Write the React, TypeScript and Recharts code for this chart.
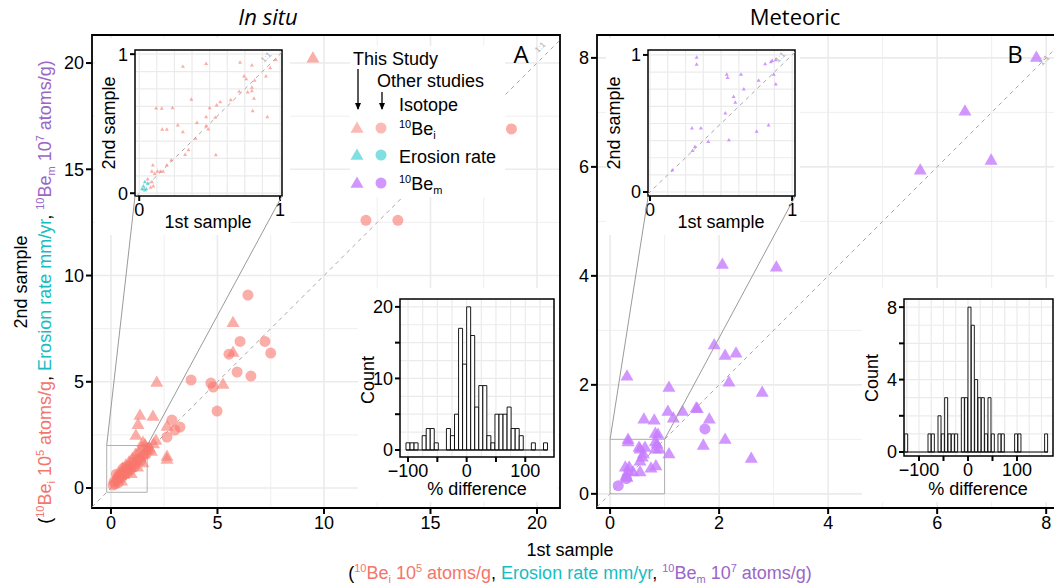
import React from 'react';
import {
  ScatterChart, Scatter, BarChart, Bar, XAxis, YAxis, CartesianGrid, ReferenceLine, ReferenceArea,
} from 'recharts';

const FONT = "'Liberation Sans', Arial, Helvetica, sans-serif";
const TITLE_FONT = "'Open Sans', 'Noto Sans', sans-serif";
const PINK = '#F8766D';
const CYAN = '#00BFC4';
const PURPLE = '#C77CFF';
const PINK_TXT = '#F4756C';
const CYAN_TXT = '#17BDC2';
const PURPLE_TXT = '#9A66C8';
const GRID = '#EBEBEB';

// ---- panel A: in situ 10Be (1e5 atoms/g) ----
const inSituThisStudy = [
  [9.48, 20.2], [5.73, 7.76], [5.73, 6.35], [2.15, 4.94], [5.26, 4.85], [1.36, 3.39], [1.97, 3.34],
  [2.63, 2.87], [1.27, 2.96], [1.17, 2.45], [2.11, 2.21], [1.5, 2.12], [2.63, 1.46], [2.63, 1.32],
  [0.25, 0.45], [0.35, 0.7], [0.45, 0.55], [0.55, 0.9], [0.6, 0.6], [0.7, 1.05], [0.75, 0.8],
  [0.85, 1.2], [0.9, 0.95], [1.0, 1.35], [1.05, 1.1], [1.15, 1.55], [1.2, 1.25], [1.3, 1.7],
  [1.35, 1.4], [1.45, 1.9], [1.55, 1.6], [1.6, 2.0], [1.7, 1.75], [1.8, 1.85], [0.95, 0.65],
  [1.25, 0.95], [0.5, 0.3], [1.5, 1.15], [1.9, 1.7], [2.0, 2.05],
];
const inSituOther = [
  [18.8, 16.9], [11.97, 12.6], [13.47, 12.6], [6.43, 9.08], [6.06, 6.9], [7.23, 6.9], [7.5, 6.35],
  [5.54, 6.3], [5.92, 5.46], [6.57, 5.27], [3.76, 5.08], [4.69, 4.94], [4.8, 4.75], [4.98, 3.62],
  [2.86, 3.2], [3.24, 2.87], [3.0, 2.73], [2.63, 2.4],
  [0.1, 0.14], [0.15, 0.3], [0.2, 0.2], [0.3, 0.4], [0.35, 0.25], [0.4, 0.55], [0.5, 0.5],
  [0.55, 0.7], [0.65, 0.65], [0.7, 0.85], [0.8, 0.75], [0.85, 1.0], [0.95, 0.9], [1.05, 1.2],
  [1.1, 1.0], [1.25, 1.35], [1.4, 1.3], [1.5, 1.55], [1.65, 1.6], [1.75, 1.9], [0.25, 0.65], [0.6, 0.95],
];
const insetAIsotope = [
  [0.31, 0.91], [0.475, 0.93], [0.716, 0.94], [0.8, 0.92], [0.97, 0.96], [0.93, 0.9], [0.9, 0.84],
  [0.745, 0.84], [0.76, 0.82], [0.82, 0.81], [0.8, 0.76], [0.8, 0.735], [0.71, 0.73], [0.77, 0.726],
  [0.815, 0.68], [0.65, 0.67], [0.575, 0.656], [0.55, 0.632], [0.37, 0.673], [0.12, 0.61],
  [0.16, 0.608], [0.236, 0.613], [0.5, 0.613], [0.806, 0.59], [0.475, 0.548], [0.54, 0.543],
  [0.91, 0.548], [0.41, 0.507], [0.274, 0.488], [0.163, 0.457], [0.196, 0.457], [0.475, 0.483],
  [0.49, 0.46], [0.31, 0.44], [0.4, 0.392], [0.35, 0.31], [0.326, 0.276], [0.544, 0.274],
  [0.227, 0.236], [0.196, 0.2], [0.097, 0.2], [0.09, 0.155], [0.11, 0.14], [0.13, 0.155],
  [0.15, 0.155], [0.17, 0.155], [0.08, 0.04], [0.1, 0.05], [0.06, 0.1], [0.09, 0.08],
];
const insetAErosion = [[0.03, 0.05], [0.04, 0.08], [0.05, 0.03], [0.06, 0.07], [0.04, 0.02], [0.02, 0.03]];

// ---- panel B: meteoric 10Be (1e7 atoms/g) ----
const meteoricThisStudy = [
  [7.82, 8.0], [6.51, 7.01], [6.99, 6.11], [5.69, 5.93], [2.06, 4.2], [3.05, 4.15], [1.91, 2.72],
  [2.11, 2.53], [2.31, 2.57], [0.31, 2.15], [2.18, 2.04], [1.08, 1.94], [2.79, 1.85], [1.06, 1.5],
  [1.33, 1.5], [1.16, 1.38], [1.58, 1.56], [1.6, 1.55], [1.82, 1.36], [0.62, 1.36], [0.81, 1.34],
  [0.83, 1.1], [0.88, 1.08], [0.33, 0.99], [0.33, 0.94], [1.71, 0.88], [2.11, 0.99], [2.59, 0.64],
  [1.08, 0.72], [0.53, 0.84], [0.64, 0.84], [0.55, 0.81], [0.83, 0.94], [0.86, 0.9], [0.9, 0.81],
  [0.83, 0.81], [0.61, 0.72], [0.59, 0.66], [0.55, 0.59], [0.84, 0.5], [0.75, 0.46], [0.28, 0.48],
  [0.35, 0.48], [0.33, 0.4], [0.55, 0.39], [0.42, 0.39], [0.29, 0.31], [0.31, 0.29],
];
const meteoricOther = [[1.74, 1.19], [0.15, 0.15], [0.3, 0.28]];
const insetBIsotope = [
  [0.328, 0.98], [0.328, 0.93], [0.54, 0.856], [0.546, 0.833], [0.64, 0.856], [0.81, 0.933],
  [0.85, 0.947], [0.86, 0.957], [0.885, 0.962], [0.764, 0.813], [0.87, 0.856], [0.885, 0.785],
  [0.66, 0.749], [0.588, 0.694], [0.6, 0.653], [0.53, 0.574], [0.295, 0.464], [0.358, 0.464],
  [0.834, 0.486], [0.75, 0.44], [0.555, 0.378], [0.41, 0.366], [0.316, 0.33], [0.3, 0.3], [0.157, 0.158],
];

// ---- histograms of % difference ----
const histAStart = -103.5;
const histABin = 6.9;
const histACounts = [1, 1, 1, 0, 2, 3, 3, 1, 0, 0, 3, 2, 5, 17, 12, 20, 16, 6, 9, 9, 2, 1, 5, 5, 5, 6, 3, 3, 2, 0, 0, 1, 0, 0, 1];
const histBStart = -129.2;
const histBBin = 6.8;
const histBCounts = [1, 0, 0, 0, 0, 0, 0, 1, 1, 0, 2, 1, 3, 1, 1, 1, 0, 3, 3, 8, 7, 4, 3, 3, 1, 3, 1, 0, 1, 1, 0, 0, 0, 1, 1, 0, 0, 0, 0, 0, 0, 0, 1];

// ---- ticks / grid ----
const ticksA = [0, 5, 10, 15, 20];
const minorA = [2.5, 7.5, 12.5, 17.5];
const ticksB = [0, 2, 4, 6, 8];
const minorB = [1, 3, 5, 7];
const insetTicks = [0, 1];
const insetMajor = [0, 0.25, 0.5, 0.75, 1];
const insetMinor = [0.125, 0.375, 0.625, 0.875];
const histXTicks = [-100, -50, 0, 50, 100];
const histAGridX = [-100, -75, -50, -25, 0, 25, 50, 75, 100, 125];
const histAGridY = [0, 2.5, 5, 7.5, 10, 12.5, 15, 17.5, 20];
const histAYTicks = [0, 5, 10, 15, 20];
const histBGridX = [-125, -100, -75, -50, -25, 0, 25, 50, 75, 100, 125, 150];
const histBGridY = [0, 1, 2, 3, 4, 5, 6, 7, 8];
const histBYTicks = [0, 2, 4, 6, 8];

const pts = (a: number[][]) => a.map(([x, y]) => ({ x, y }));

const Tri = ({ cx, cy, fill, s, op }: any) => {
  const h = s * 0.866;
  return (
    <path
      d={`M${cx},${cy - (2 * h) / 3}L${cx + s / 2},${cy + h / 3}L${cx - s / 2},${cy + h / 3}Z`}
      fill={fill}
      fillOpacity={op}
    />
  );
};
const Dot = ({ cx, cy, fill, r, op }: any) => <circle cx={cx} cy={cy} r={r} fill={fill} fillOpacity={op} />;

const minus = (v: number) => (v < 0 ? `\u2212${Math.abs(v)}` : `${v}`);

type Series = { data: number[][]; shape: (p: any) => React.ReactElement };

function ScatterPanel(p: any) {
  const d0 = Math.max(p.xDomain[0], p.yDomain[0]);
  const d1 = Math.min(p.xDomain[1], p.yDomain[1]);
  const tickStyle = { fill: '#000', fontSize: p.fs, fontFamily: FONT };
  return (
    <div style={{ position: 'absolute', left: p.left, top: p.top, width: p.width, height: p.height, background: p.bg }}>
      <ScatterChart width={p.width} height={p.height} margin={p.margin}>
        <CartesianGrid verticalValues={p.minor} horizontalValues={p.minor} stroke={GRID} strokeWidth={p.minorW} />
        <CartesianGrid verticalValues={p.major} horizontalValues={p.major} stroke={GRID} strokeWidth={p.majorW} />
        <XAxis type="number" dataKey="x" domain={p.xDomain} ticks={p.ticks} interval={0} allowDataOverflow
          height={p.xh} axisLine={false} tickSize={p.tickSize} tickLine={{ stroke: '#000', strokeWidth: 2 }} tick={tickStyle} />
        <YAxis type="number" dataKey="y" domain={p.yDomain} ticks={p.ticks} interval={0} allowDataOverflow
          width={p.yw} axisLine={false} tickSize={p.tickSize} tickLine={{ stroke: '#000', strokeWidth: 2 }} tick={tickStyle} />
        <ReferenceLine segment={[{ x: d0, y: d0 }, { x: d1, y: d1 }]} stroke="#A8A8A8" strokeDasharray="4 4" strokeWidth={1} ifOverflow="hidden" />
        {p.rect && (
          <ReferenceArea x1={p.rect[0]} x2={p.rect[1]} y1={p.rect[2]} y2={p.rect[3]} fill="none" stroke="#B0B0B0" strokeWidth={1} ifOverflow="visible" />
        )}
        {p.series.map((s: Series, i: number) => (
          <Scatter key={i} data={pts(s.data)} shape={s.shape} isAnimationActive={false} />
        ))}
        <ReferenceArea x1={p.xDomain[0]} x2={p.xDomain[1]} y1={p.yDomain[0]} y2={p.yDomain[1]} fill="none"
          stroke="#000" strokeWidth={p.border} ifOverflow="visible" />
      </ScatterChart>
    </div>
  );
}

function Connectors(p: any) {
  return (
    <div style={{ position: 'absolute', left: p.left, top: p.top, pointerEvents: 'none' }}>
      <ScatterChart width={p.width} height={p.height} margin={{
        top: p.margin.top, right: p.margin.right, bottom: p.margin.bottom + p.xh, left: p.margin.left + p.yw,
      }}>
        <XAxis type="number" dataKey="x" domain={p.xDomain} allowDataOverflow hide />
        <YAxis type="number" dataKey="y" domain={p.yDomain} allowDataOverflow hide />
        {p.lines.map((l: number[][], i: number) => (
          <ReferenceLine key={i} segment={[{ x: l[0][0], y: l[0][1] }, { x: l[1][0], y: l[1][1] }]}
            stroke="#9A9A9A" strokeWidth={1} ifOverflow="visible" />
        ))}
      </ScatterChart>
    </div>
  );
}

function HistPanel(p: any) {
  const data = p.counts.map((c: number, i: number) => ({ bin: i, mid: p.start + p.binW * (i + 0.5), count: c }));
  const end = p.start + p.binW * p.counts.length;
  const plotW = p.width - p.margin.left - p.margin.right - p.yw;
  const ppu = plotW / (p.xDomain[1] - p.xDomain[0]);
  const padL = (p.start - p.xDomain[0]) * ppu;
  const padR = (p.xDomain[1] - end) * ppu;
  const tickStyle = { fill: '#000', fontSize: 18, fontFamily: FONT };
  return (
    <div style={{ position: 'absolute', left: p.left, top: p.top, width: p.width, height: p.height, background: '#fff' }}>
      <BarChart width={p.width} height={p.height} margin={p.margin} data={data} barCategoryGap={0} barGap={0}>
        <CartesianGrid xAxisId="num" verticalValues={p.gridX} horizontalValues={p.gridY} stroke={GRID} strokeWidth={1.2} />
        <XAxis xAxisId="num" type="number" dataKey="mid" domain={p.xDomain} allowDataOverflow ticks={histXTicks}
          interval={0} height={22} axisLine={false} tickSize={5} tickLine={{ stroke: '#000', strokeWidth: 2 }}
          tick={tickStyle} tickFormatter={(v: number) => (v % 100 === 0 ? minus(v) : '')} />
        <XAxis xAxisId="cat" dataKey="bin" hide height={0} padding={{ left: padL, right: padR }} />
        <YAxis type="number" domain={p.yDomain} allowDataOverflow ticks={p.yTicks} interval={0} width={p.yw}
          axisLine={false} tickSize={5} tickLine={{ stroke: '#000', strokeWidth: 2 }} tick={tickStyle}
          tickFormatter={(v: number) => (v % p.labelEvery === 0 ? `${v}` : '')} />
        <Bar xAxisId="cat" dataKey="count" fill="#fff" stroke="#000" strokeWidth={0.9} isAnimationActive={false} />
        <ReferenceLine xAxisId="num" segment={[{ x: p.start, y: 0 }, { x: end, y: 0 }]} stroke="#000" strokeWidth={1} />
        <ReferenceArea xAxisId="num" x1={p.xDomain[0]} x2={p.xDomain[1]} y1={p.yDomain[0]} y2={p.yDomain[1]}
          fill="none" stroke="#000" strokeWidth={1.5} ifOverflow="visible" />
      </BarChart>
    </div>
  );
}

const Sup = ({ children, fill }: any) => <tspan fill={fill} fontSize={11} dy={-7}>{children}</tspan>;

function UnitsLine({ x, y, rotate }: any) {
  return (
    <text x={x} y={y} textAnchor="middle" fontSize={18} fontFamily={FONT}
      transform={rotate ? `rotate(-90 ${x} ${y})` : undefined}>
      <tspan fill="#000">(</tspan>
      <Sup fill={PINK_TXT}>10</Sup>
      <tspan fill={PINK_TXT} dy={7}>Be</tspan>
      <tspan fill={PINK_TXT} fontSize={11} dy={4}>i</tspan>
      <tspan fill={PINK_TXT} dy={-4}> 10</tspan>
      <Sup fill={PINK_TXT}>5</Sup>
      <tspan fill={PINK_TXT} dy={7}> atoms/g</tspan>
      <tspan fill="#000">, </tspan>
      <tspan fill={CYAN_TXT}>Erosion rate mm/yr</tspan>
      <tspan fill="#000">, </tspan>
      <Sup fill={PURPLE_TXT}>10</Sup>
      <tspan fill={PURPLE_TXT} dy={7}>Be</tspan>
      <tspan fill={PURPLE_TXT} fontSize={11} dy={4}>m</tspan>
      <tspan fill={PURPLE_TXT} dy={-4}> 10</tspan>
      <Sup fill={PURPLE_TXT}>7</Sup>
      <tspan fill={PURPLE_TXT} dy={7}> atoms/g)</tspan>
    </text>
  );
}

function Legend() {
  const rows = [
    { c: CYAN, y: 109, op: 0.5 },
    { c: PINK, y: 82, op: 0.5 },
    { c: PURPLE, y: 137, op: 0.8 },
  ];
  return (
    <div style={{ position: 'absolute', left: 350, top: 46, width: 155, height: 151, background: '#fff' }}>
      <svg width={155} height={151} fontFamily={FONT}>
        <text x={3} y={19} fontSize={18}>This Study</text>
        <line x1={8} y1={23} x2={8} y2={63} stroke="#000" strokeWidth={1.3} />
        <path d="M5,57 L8,64 L11,57 Z" fill="#000" />
        <text x={27} y={41} fontSize={18}>Other studies</text>
        <line x1={32} y1={46} x2={32} y2={63} stroke="#000" strokeWidth={1.3} />
        <path d="M29,57 L32,64 L35,57 Z" fill="#000" />
        <text x={49} y={65} fontSize={18}>Isotope</text>
        {rows.map((r, i) => (
          <g key={i}>
            <Tri cx={7} cy={r.y + 1} fill={r.c} s={13} op={r.op} />
            <Dot cx={31} cy={r.y} fill={r.c} r={5.5} op={r.op} />
          </g>
        ))}
        <text x={49} y={89} fontSize={18}>
          <tspan fontSize={11} dy={-7}>10</tspan>
          <tspan dy={7}>Be</tspan>
          <tspan fontSize={11} dy={4}>i</tspan>
        </text>
        <text x={49} y={117} fontSize={18}>Erosion rate</text>
        <text x={49} y={144} fontSize={18}>
          <tspan fontSize={11} dy={-7}>10</tspan>
          <tspan dy={7}>Be</tspan>
          <tspan fontSize={11} dy={4}>m</tspan>
        </text>
      </svg>
    </div>
  );
}

const mainA = {
  left: 0, top: 0, width: 570, height: 585, margin: { top: 35, right: 10, bottom: 47, left: 52 }, yw: 40, xh: 30,
  xDomain: [-0.89, 21.08], yDomain: [-0.94, 21.32],
};
const mainB = {
  left: 560, top: 0, width: 510, height: 585, margin: { top: 35, right: 8, bottom: 47, left: 7 }, yw: 30, xh: 30,
  xDomain: [-0.24, 8.29], yDomain: [-0.26, 8.42],
};
const insetA = {
  left: 95, top: 38, width: 195, height: 197, margin: { top: 12, right: 8, bottom: 17, left: 18 }, yw: 22, xh: 22,
  xDomain: [-0.03, 1.014], yDomain: [-0.02, 1.03],
};
const insetB = {
  left: 606, top: 38, width: 194, height: 197, margin: { top: 12, right: 5, bottom: 17, left: 20 }, yw: 22, xh: 22,
  xDomain: [-0.014, 1.02], yDomain: [-0.029, 1.036],
};

export default function App() {
  const big = (c: string, op: number) => ({
    tri: (p: any) => <Tri cx={p.cx} cy={p.cy} fill={c} s={13} op={op} />,
    dot: (p: any) => <Dot cx={p.cx} cy={p.cy} fill={c} r={5.5} op={op} />,
  });
  const small = (c: string, op: number) => (p: any) => <Tri cx={p.cx} cy={p.cy} fill={c} s={4} op={op} />;
  const pinkM = big(PINK, 0.6);
  const purpM = big(PURPLE, 0.8);

  return (
    <div style={{ position: 'absolute', left: 0, top: 0, width: 1054, height: 585, overflow: 'hidden', background: '#fff' }}>
      <ScatterPanel {...mainA} ticks={ticksA} major={ticksA} minor={minorA} majorW={1.6} minorW={0.8} fs={18}
        tickSize={6} border={1.8} rect={[-0.2, 1.7, -0.2, 2.0]}
        series={[{ data: inSituOther, shape: pinkM.dot }, { data: inSituThisStudy, shape: pinkM.tri }]} />
      <ScatterPanel {...mainB} ticks={ticksB} major={ticksB} minor={minorB} majorW={1.6} minorW={0.8} fs={18}
        tickSize={6} border={1.8} rect={[0, 1, 0, 1]}
        series={[{ data: meteoricOther, shape: purpM.dot }, { data: meteoricThisStudy, shape: purpM.tri }]} />

      <ScatterPanel {...insetA} bg="#fff" ticks={insetTicks} major={insetMajor} minor={insetMinor} majorW={1.2}
        minorW={1.2} fs={18} tickSize={5} border={1.5}
        series={[{ data: insetAIsotope, shape: small(PINK, 0.6) }, { data: insetAErosion, shape: small(CYAN, 0.6) }]} />
      <ScatterPanel {...insetB} bg="#fff" ticks={insetTicks} major={insetMajor} minor={insetMinor} majorW={1.2}
        minorW={1.2} fs={18} tickSize={5} border={1.5}
        series={[{ data: insetBIsotope, shape: small(PURPLE, 0.8) }]} />

      <Legend />

      <HistPanel left={358} top={288} width={200} height={214} margin={{ top: 11, right: 4, bottom: 23, left: 16 }}
        yw={26} xDomain={[-113.7, 149]} yDomain={[-0.98, 21.1]} counts={histACounts} start={histAStart}
        binW={histABin} gridX={histAGridX} gridY={histAGridY} yTicks={histAYTicks} labelEvery={10} />
      <HistPanel left={862} top={288} width={196} height={214} margin={{ top: 11, right: 5, bottom: 24, left: 16 }}
        yw={26} xDomain={[-130.6, 173.5]} yDomain={[-0.22, 8.45]} counts={histBCounts} start={histBStart}
        binW={histBBin} gridX={histBGridX} gridY={histBGridY} yTicks={histBYTicks} labelEvery={4} />

      <Connectors {...mainA} lines={[[[-0.2, 2.0], [1.13, 13.74]], [[1.7, 2.0], [8.03, 13.74]]]} />
      <Connectors {...mainB} lines={[[[0, 1], [0.697, 5.45]], [[1, 1], [3.39, 5.45]]]} />

      <svg width={1054} height={585} style={{ position: 'absolute', left: 0, top: 0, pointerEvents: 'none' }} fontFamily={FONT}>
        <text x={268} y={25} textAnchor="middle" fontSize={22} fontStyle="italic" fontFamily={TITLE_FONT}>In situ</text>
        <text x={795} y={25} textAnchor="middle" fontSize={22} fontFamily={TITLE_FONT}>Meteoric</text>
        <text x={521} y={63} textAnchor="middle" fontSize={24} fontFamily={TITLE_FONT}>A</text>
        <text x={1015} y={63} textAnchor="middle" fontSize={24} fontFamily={TITLE_FONT}>B</text>
        <text x={542} y={49} textAnchor="middle" fontSize={8} fill="#A8A8A8" transform="rotate(-45 542 49)">1:1</text>
        <text x={268} y={59} textAnchor="middle" fontSize={8} fill="#A8A8A8" transform="rotate(-45 268 59)">1:1</text>
        <text x={782} y={59} textAnchor="middle" fontSize={8} fill="#A8A8A8" transform="rotate(-45 782 59)">1:1</text>
        <text x={1046} y={62} textAnchor="middle" fontSize={8} fill="#A8A8A8" transform="rotate(-45 1046 62)">1:1</text>

        <text x={115} y={123} textAnchor="middle" fontSize={18} transform="rotate(-90 115 123)">2nd sample</text>
        <text x={208} y={228} textAnchor="middle" fontSize={18}>1st sample</text>
        <text x={620} y={123} textAnchor="middle" fontSize={18} transform="rotate(-90 620 123)">2nd sample</text>
        <text x={721} y={228} textAnchor="middle" fontSize={18}>1st sample</text>

        <text x={374} y={380} textAnchor="middle" fontSize={18} transform="rotate(-90 374 380)">Count</text>
        <text x={477} y={495} textAnchor="middle" fontSize={18}>% difference</text>
        <text x={878} y={378} textAnchor="middle" fontSize={18} transform="rotate(-90 878 378)">Count</text>
        <text x={978} y={495} textAnchor="middle" fontSize={18}>% difference</text>

        <text x={27} y={282} textAnchor="middle" fontSize={18} transform="rotate(-90 27 282)">2nd sample</text>
        <UnitsLine x={51} y={292} rotate />
        <text x={570} y={556} textAnchor="middle" fontSize={18}>1st sample</text>
        <UnitsLine x={580} y={579} />
      </svg>
    </div>
  );
}
